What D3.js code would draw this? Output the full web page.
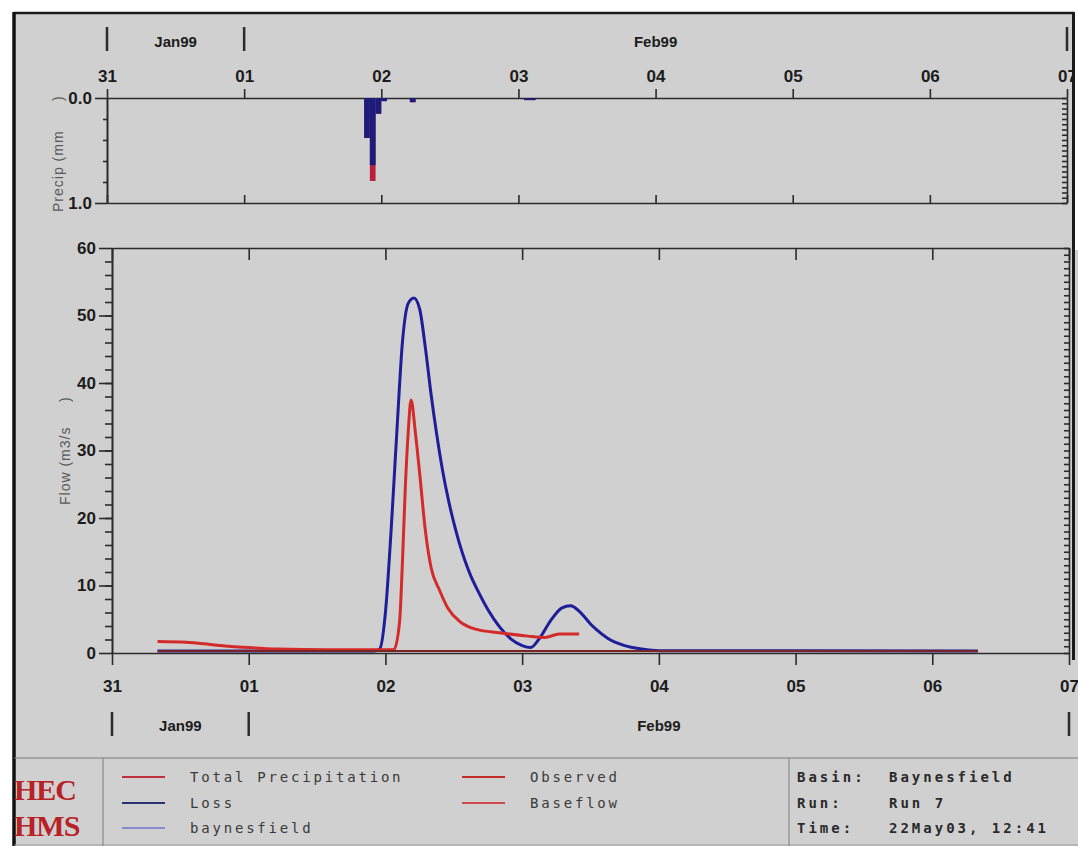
<!DOCTYPE html>
<html>
<head>
<meta charset="utf-8">
<script src="https://cdn.jsdelivr.net/npm/d3@7"></script>
<style>
body { margin: 0; background: #fff; }
.tick text { font-family: "Liberation Sans", Arial, sans-serif; font-weight: bold; font-size: 17px; fill: #1c1c1c; }
.axis path, .axis line { stroke: #2b2b2b; stroke-width: 1.6; }
.atitle { font-family: "Liberation Sans", Arial, sans-serif; font-size: 14px; fill: #5a5a5a; letter-spacing: 1px; white-space: pre; }
.month { font-family: "Liberation Sans", Arial, sans-serif; font-weight: bold; font-size: 15px; fill: #1c1c1c; }
.leg { font-family: "DejaVu Sans Mono", monospace; font-size: 14px; fill: #3a3a3a; letter-spacing: 2.8px; white-space: pre; }
.info { font-family: "DejaVu Sans Mono", monospace; font-weight: bold; font-size: 14px; fill: #2a2a2a; letter-spacing: 3px; white-space: pre; }
</style>
</head>
<body>
<svg id="chart" width="1078" height="846"></svg>
<script>
// ---- data ----
var monthNames = ["Jan99", "Feb99"];
var monthBounds = ["1999-01-31T00:00", "1999-02-01T00:00", "1999-02-07T00:00"];

// hourly precipitation (mm), bars hang down from 0
var precipTimes = ["1999-02-01T21:00", "1999-02-01T22:00", "1999-02-01T23:00", "1999-02-02T00:00",
                   "1999-02-02T05:00", "1999-02-03T01:00", "1999-02-03T02:00"];
var totalPrecip = [0.38, 0.79, 0.15, 0.03, 0.04, 0.02, 0.02];
var lossPrecip  = [0.38, 0.64, 0.15, 0.03, 0.04, 0.02, 0.02];

// computed outflow baynesfield (m3/s)
var outflowTimes = ["1999-01-31T08:00", "1999-02-01T22:00", "1999-02-01T23:00", "1999-02-02T00:00",
                    "1999-02-02T01:00", "1999-02-02T02:00", "1999-02-02T03:00", "1999-02-02T04:00",
                    "1999-02-02T05:00", "1999-02-02T06:00", "1999-02-02T07:00", "1999-02-02T08:00",
                    "1999-02-02T09:00", "1999-02-02T10:00", "1999-02-02T11:00", "1999-02-02T12:00",
                    "1999-02-02T13:00", "1999-02-02T14:00", "1999-02-02T15:00", "1999-02-02T16:00",
                    "1999-02-02T18:00", "1999-02-02T20:00", "1999-02-02T22:00", "1999-02-03T00:00",
                    "1999-02-03T01:30", "1999-02-03T03:00", "1999-02-03T05:00", "1999-02-03T07:00",
                    "1999-02-03T08:30", "1999-02-03T10:00", "1999-02-03T11:00", "1999-02-03T12:00",
                    "1999-02-03T13:00", "1999-02-03T15:00", "1999-02-03T18:00", "1999-02-03T21:00",
                    "1999-02-04T00:00", "1999-02-06T08:00"];
var outflow = [0.3, 0.3, 0.6, 6.0, 18.2, 32.7, 46.2, 51.8, 52.6, 51.0,
               45.3, 38.4, 32.4, 27.2, 22.9, 19.3, 16.2, 13.6, 11.4, 9.6,
               6.4, 3.9, 2.1, 1.1, 0.8, 2.1, 4.8, 6.7, 7.0, 6.2,
               5.3, 4.3, 3.5, 2.2, 1.1, 0.6, 0.35, 0.3];

// observed flow (m3/s)
var observedTimes = ["1999-01-31T08:00", "1999-01-31T13:00", "1999-01-31T18:00", "1999-02-01T00:00",
                     "1999-02-01T05:00", "1999-02-01T14:00", "1999-02-02T01:30", "1999-02-02T02:30",
                     "1999-02-02T03:00", "1999-02-02T03:30", "1999-02-02T04:00", "1999-02-02T04:30",
                     "1999-02-02T05:15", "1999-02-02T06:00", "1999-02-02T07:00", "1999-02-02T08:00",
                     "1999-02-02T09:30", "1999-02-02T11:00", "1999-02-02T13:00", "1999-02-02T16:00",
                     "1999-02-02T20:00", "1999-02-03T01:00", "1999-02-03T04:00", "1999-02-03T06:30",
                     "1999-02-03T10:00"];
var observed = [1.7, 1.6, 1.2, 0.8, 0.6, 0.5, 0.5, 4.8, 13.8, 24.7, 32.7, 37.5,
                32.7, 26.7, 18.2, 12.7, 9.3, 6.6, 4.7, 3.5, 3.0, 2.5, 2.3, 2.8, 2.8];

// baseflow (m3/s)
var baseflowTimes = ["1999-01-31T08:00", "1999-02-06T08:00"];
var baseflow = [0.3, 0.3];

var legendNames = ["Total Precipitation", "Loss", "baynesfield", "Observed", "Baseflow"];
var infoLabels = ["Basin:", "Run:", "Time:"];
var infoValues = ["Baynesfield", "Run 7", "22May03, 12:41"];

// ---- drawing ----
var parse = d3.timeParse("%Y-%m-%dT%H:%M");
var svg = d3.select("#chart");

function pairs(times, vals) {
    return times.map(function(t, i) { return {t: parse(t), v: vals[i]}; });
}

var start = parse(monthBounds[0]), end = parse(monthBounds[2]);
// the scanned plot is slightly skewed, so each panel keeps its own x range
var xTop = d3.scaleTime().domain([start, end]).range([107, 1067]);
var xBot = d3.scaleTime().domain([start, end]).range([112, 1069]);
var yP = d3.scaleLinear().domain([0, 1]).range([98, 203]);
var yQ = d3.scaleLinear().domain([0, 60]).range([653, 248]);

// background and frame
svg.append("rect").attr("width", 1078).attr("height", 846).attr("fill", "#fff");
svg.append("rect").attr("x", 14).attr("y", 13).attr("width", 1064).attr("height", 833).attr("fill", "#d0d0d0");

var dayTicks = d3.timeDay.every(1);
var dayFmt = d3.timeFormat("%d");

// precip panel: top axis with day labels
svg.append("g").attr("class", "axis")
    .attr("transform", "translate(0," + yP(0) + ")")
    .call(d3.axisTop(xTop).ticks(dayTicks).tickFormat(dayFmt).tickSize(9).tickSizeOuter(0).tickPadding(7));
svg.append("g").attr("class", "axis")
    .attr("transform", "translate(0," + yP(1) + ")")
    .call(d3.axisTop(xTop).ticks(dayTicks).tickFormat("").tickSize(8).tickSizeOuter(0));
svg.append("g").attr("class", "axis")
    .attr("transform", "translate(" + xTop.range()[0] + ",0)")
    .call(d3.axisLeft(yP).tickValues([0, 1]).tickFormat(d3.format(".1f")).tickSize(12).tickSizeOuter(0).tickPadding(3));
svg.append("g").attr("class", "axis")
    .attr("transform", "translate(" + xTop.range()[0] + ",0)")
    .call(d3.axisLeft(yP).tickValues(d3.range(0.2, 0.9, 0.2)).tickFormat("").tickSize(4).tickSizeOuter(0));
svg.append("g").attr("class", "axis")
    .attr("transform", "translate(" + xTop.range()[1] + ",0)")
    .call(d3.axisRight(yP).tickValues(d3.range(0, 1.001, 0.05)).tickFormat("").tickSize(-5).tickSizeOuter(0));

// flow panel axes
svg.append("g").attr("class", "axis")
    .attr("transform", "translate(0," + yQ(0) + ")")
    .call(d3.axisBottom(xBot).ticks(dayTicks).tickFormat(dayFmt).tickSize(12).tickSizeOuter(0).tickPadding(15));
svg.append("g").attr("class", "axis")
    .attr("transform", "translate(0," + yQ(60) + ")")
    .call(d3.axisBottom(xBot).ticks(dayTicks).tickFormat("").tickSize(12).tickSizeOuter(0));
svg.append("g").attr("class", "axis")
    .attr("transform", "translate(" + xBot.range()[0] + ",0)")
    .call(d3.axisLeft(yQ).tickValues(d3.range(0, 61, 10)).tickFormat(d3.format("d")).tickSize(13).tickSizeOuter(0).tickPadding(3));
svg.append("g").attr("class", "axis")
    .attr("transform", "translate(" + xBot.range()[0] + ",0)")
    .call(d3.axisLeft(yQ).tickValues(d3.range(2, 60, 2)).tickFormat("").tickSize(7).tickSizeOuter(0));
svg.append("g").attr("class", "axis")
    .attr("transform", "translate(" + xBot.range()[1] + ",0)")
    .call(d3.axisRight(yQ).tickValues(d3.range(0, 61, 1)).tickFormat("").tickSize(-5).tickSizeOuter(0));

// axis titles
svg.append("text").attr("class", "atitle")
    .attr("transform", "translate(63,212) rotate(-90)")
    .text("Precip (mm      )");
svg.append("text").attr("class", "atitle")
    .attr("transform", "translate(70,505) rotate(-90)")
    .text("Flow (m3/s     )");

// month rows
var bounds = monthBounds.map(parse);
function monthRow(x, yBar, yText) {
    svg.append("g").selectAll("line").data(bounds).enter().append("line")
        .attr("x1", function(d) { return x(d); }).attr("x2", function(d) { return x(d); })
        .attr("y1", yBar).attr("y2", yBar + 24)
        .attr("stroke", "#2b2b2b").attr("stroke-width", 2.5);
    svg.append("g").selectAll("text").data(monthNames).enter().append("text")
        .attr("class", "month")
        .attr("text-anchor", "middle")
        .attr("x", function(d, i) { return (x(bounds[i]) + x(bounds[i + 1])) / 2; })
        .attr("y", yText)
        .text(function(d) { return d; });
}
monthRow(xTop, 27, 47);
monthRow(xBot, 712, 731);

// precipitation bars
var pData = precipTimes.map(function(t, i) {
    return {t: parse(t), total: totalPrecip[i], loss: lossPrecip[i]};
});
function barX(d) { return xTop(d.t); }
function barW(d) { return xTop(d3.timeHour.offset(d.t, 1)) - xTop(d.t); }
svg.append("g").selectAll("rect").data(pData).enter().append("rect")
    .attr("x", barX).attr("width", barW)
    .attr("y", yP(0)).attr("height", function(d) { return yP(d.total) - yP(0); })
    .attr("fill", "#b8203c");
svg.append("g").selectAll("rect").data(pData).enter().append("rect")
    .attr("x", barX).attr("width", barW)
    .attr("y", yP(0)).attr("height", function(d) { return yP(d.loss) - yP(0); })
    .attr("fill", "#1c1c7c");

// flow lines
var line = d3.line()
    .x(function(d) { return xBot(d.t); })
    .y(function(d) { return yQ(d.v); })
    .curve(d3.curveMonotoneX);

svg.append("path").datum(pairs(outflowTimes, outflow))
    .attr("d", line).attr("fill", "none").attr("stroke", "#1e1e98").attr("stroke-width", 3);
svg.append("path").datum(pairs(observedTimes, observed))
    .attr("d", line).attr("fill", "none").attr("stroke", "#d42a2a").attr("stroke-width", 3);
svg.append("path").datum(pairs(baseflowTimes, baseflow))
    .attr("d", line).attr("fill", "none").attr("stroke", "#7a2424").attr("stroke-width", 2.2);

// frame borders
svg.append("rect").attr("x", 1075).attr("y", 0).attr("width", 3).attr("height", 250).attr("fill", "#fff");
svg.append("line").attr("x1", 14).attr("x2", 1074).attr("y1", 13).attr("y2", 13)
    .attr("stroke", "#1a1a1a").attr("stroke-width", 2.5);
svg.append("line").attr("x1", 14).attr("x2", 14).attr("y1", 12).attr("y2", 846)
    .attr("stroke", "#111").attr("stroke-width", 3.5);
svg.append("line").attr("x1", 1073.5).attr("x2", 1073.5).attr("y1", 12).attr("y2", 660)
    .attr("stroke", "#1a1a1a").attr("stroke-width", 3);

// legend box
var legTop = 758;
svg.append("line").attr("x1", 14).attr("x2", 1078).attr("y1", legTop).attr("y2", legTop)
    .attr("stroke", "#7a7a7a").attr("stroke-width", 1.2);
svg.append("line").attr("x1", 14).attr("x2", 1078).attr("y1", 845).attr("y2", 845)
    .attr("stroke", "#9a9a9a").attr("stroke-width", 1);
[103, 789].forEach(function(x) {
    svg.append("line").attr("x1", x).attr("x2", x).attr("y1", legTop).attr("y2", 846)
        .attr("stroke", "#8a8a8a").attr("stroke-width", 1.2);
});

svg.append("text").attr("x", 14).attr("y", 800)
    .attr("font-family", "Liberation Serif, serif").attr("font-weight", "bold")
    .attr("font-size", 30).attr("fill", "#b82226").attr("letter-spacing", -1).text("HEC");
svg.append("text").attr("x", 14).attr("y", 836)
    .attr("font-family", "Liberation Serif, serif").attr("font-weight", "bold")
    .attr("font-size", 30).attr("fill", "#b82226").attr("letter-spacing", -1).text("HMS");

var legendColors = ["#c03040", "#2a3278", "#8a8ad0", "#c42a2a", "#d04a4a"];
var legendCols = [0, 0, 0, 1, 1], legendRows = [0, 1, 2, 0, 1];
var rowY = [777, 803, 828];
var legend = svg.append("g").selectAll("g").data(legendNames).enter().append("g")
    .attr("transform", function(d, i) {
        return "translate(" + (122 + legendCols[i] * 340) + "," + rowY[legendRows[i]] + ")";
    });
legend.append("line").attr("x1", 0).attr("x2", 43).attr("y1", 0).attr("y2", 0)
    .attr("stroke", function(d, i) { return legendColors[i]; }).attr("stroke-width", 2);
legend.append("text").attr("class", "leg").attr("x", 68).attr("y", 5)
    .text(function(d) { return d; });

var info = svg.append("g").selectAll("g").data(infoLabels).enter().append("g")
    .attr("transform", function(d, i) { return "translate(0," + (rowY[i] + 5) + ")"; });
info.append("text").attr("class", "info").attr("x", 797).text(function(d) { return d; });
info.append("text").attr("class", "info").attr("x", 889).text(function(d, i) { return infoValues[i]; });
</script>
</body>
</html>
